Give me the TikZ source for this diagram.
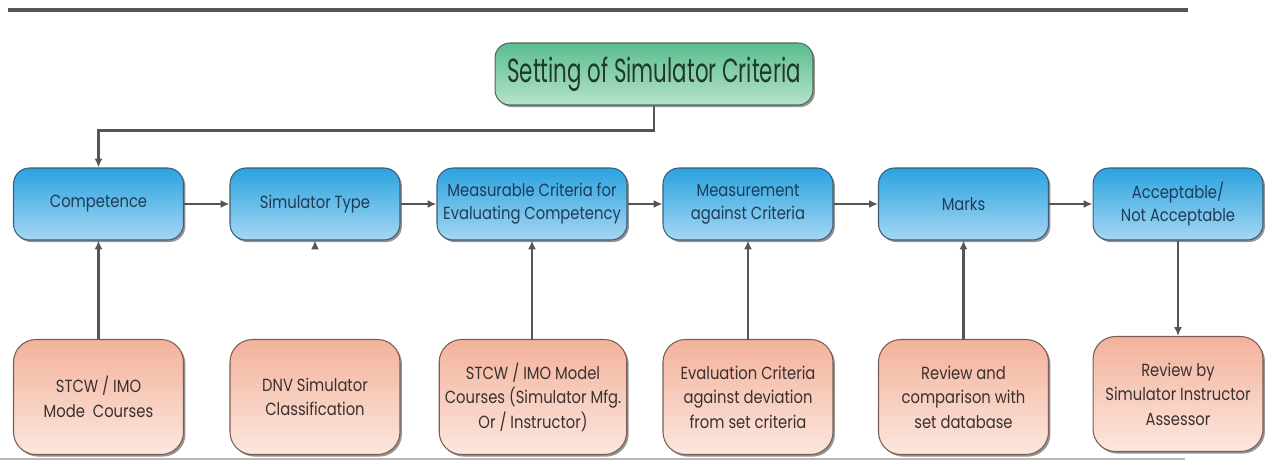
\documentclass[tikz,border=0pt]{standalone}
\usepackage{fontspec}
\newfontfamily\boxfont[FakeStretch=0.84]{Poppins}
\newfontfamily\titlefont[FakeStretch=0.64]{Poppins}
\usepackage{tikz}
\usetikzlibrary{arrows.meta,shadows}

\definecolor{BlueTop}{HTML}{2AA3DF}
\definecolor{BlueBot}{HTML}{A6D7F3}
\definecolor{BlueEdge}{HTML}{3C5D78}
\definecolor{BlueText}{HTML}{1D3C58}
\definecolor{PinkTop}{HTML}{F3B29B}
\definecolor{PinkBot}{HTML}{FCE7DE}
\definecolor{PinkEdge}{HTML}{7A5E56}
\definecolor{PinkText}{HTML}{3A3030}
\definecolor{GreenTop}{HTML}{5CBD8F}
\definecolor{GreenBot}{HTML}{B6E3CC}
\definecolor{GreenEdge}{HTML}{4D6B5C}
\definecolor{GreenText}{HTML}{1F3A2C}
\definecolor{LineGray}{HTML}{555555}

\begin{document}
\begin{tikzpicture}[%
		x=0.02cm, y=-0.02cm,
		>={Latex[length=5pt,width=4.5pt]},
		conn/.style={draw=LineGray, line width=1.3pt},
		boxshadow/.style={drop shadow={shadow xshift=1.1pt, shadow yshift=-1.2pt, fill=black!70, opacity=0.6}},
		bluebox/.style={draw=BlueEdge, line width=0.6pt, rounded corners=0.32cm,
			top color=BlueTop, bottom color=BlueBot, boxshadow,
			minimum width=3.4cm, minimum height=1.44cm, inner sep=0pt, align=center,
			text=BlueText, font=\boxfont\fontsize{10}{13}\selectfont},
		pinkbox/.style={draw=PinkEdge, line width=0.6pt, rounded corners=0.45cm,
			top color=PinkTop, bottom color=PinkBot, boxshadow,
			minimum width=3.4cm, minimum height=2.3cm, inner sep=0pt, align=center,
			text=PinkText, font=\boxfont\fontsize{10}{14}\selectfont},
		titlebox/.style={draw=GreenEdge, line width=0.6pt, rounded corners=0.3cm,
			top color=GreenTop, bottom color=GreenBot, boxshadow,
			minimum width=6.36cm, minimum height=1.24cm, inner sep=0pt,
			text=GreenText, font=\titlefont\fontsize{19}{22}\selectfont}
		]

		%% helper grid, uncomment to place things
		%\draw [thin,purple,opacity=0.4,step=50] (0,0) grid (1265,463);

		\useasboundingbox (0,0) rectangle (1265,463);

		\draw[LineGray, line width=2.3pt] (8,10) -- (1188,10);
		\draw[gray!55, line width=0.8pt] (0,459) -- (1185,459);

		\node[titlebox] (setting) at (654,74) {Setting of Simulator Criteria};

		\node[bluebox] (comp) at (98.5,204) {Competence};
		\node[bluebox] (simtype) at (315,204) {Simulator Type};
		\node[bluebox, minimum width=3.8cm] (meascrit) at (532,204) {Measurable Criteria for\\Evaluating Competency};
		\node[bluebox] (measure) at (748,204) {Measurement\\against Criteria};
		\node[bluebox] (marks) at (963.5,204) {Marks};
		\node[bluebox] (accept) at (1178,204) {Acceptable/\\Not Acceptable};

		\node[pinkbox] (stcw) at (98.5,397) {STCW / IMO\\Mode\ \ Courses};
		\node[pinkbox] (dnv) at (315,397) {DNV Simulator\\Classification};
		\node[pinkbox, minimum width=3.75cm] (model) at (533,397) {STCW / IMO Model\\Courses (Simulator Mfg.\\Or / Instructor)};
		\node[pinkbox] (evalcrit) at (748,397) {Evaluation Criteria\\against deviation\\from set criteria};
		\node[pinkbox] (review) at (963.5,397) {Review and\\comparison with\\set database};
		\node[pinkbox] (assessor) at (1178,394) {Review by\\Simulator Instructor\\Assessor};

		\draw[conn, ->] (setting.south) -- ++(0,25) -| (comp.north);

		\draw[conn, ->] (comp) -- (simtype);
		\draw[conn, ->] (simtype) -- (meascrit);
		\draw[conn, ->] (meascrit) -- (measure);
		\draw[conn, ->] (measure) -- (marks);
		\draw[conn, ->] (marks) -- (accept);

		\draw[conn, ->] (stcw) -- (comp);
		\coordinate (simstub) at ([yshift=-3pt]simtype.south);
		\draw[conn, ->] (simstub) -- (simtype.south);
		\draw[conn, ->] (model.north -| meascrit.south) -- (meascrit);
		\draw[conn, ->] (evalcrit) -- (measure);
		\draw[conn, ->] (review) -- (marks);
		\draw[conn, ->] (accept) -- (assessor);
	\end{tikzpicture}
\end{document}
